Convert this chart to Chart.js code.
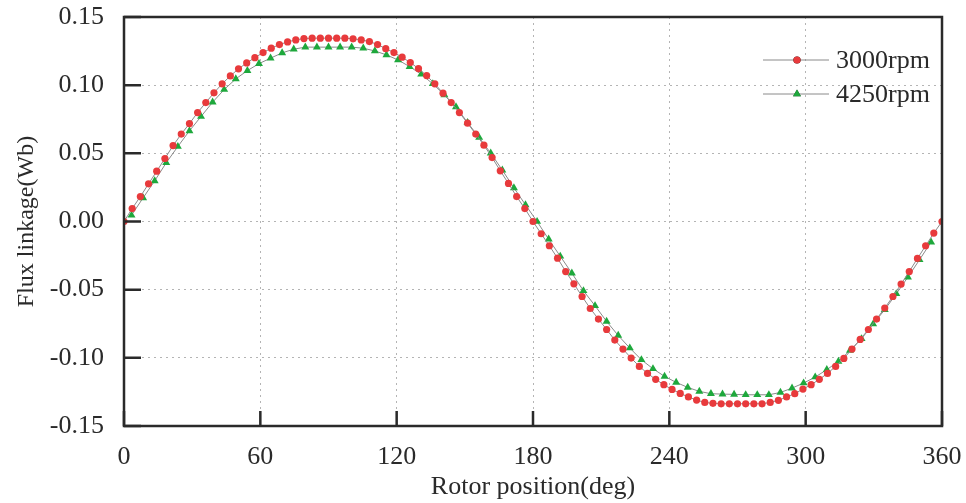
<!DOCTYPE html>
<html>
<head>
<meta charset="utf-8">
<script src="https://cdn.jsdelivr.net/npm/chart.js@4/dist/chart.umd.min.js"></script>
<style>
  html, body { margin: 0; padding: 0; background: #fff; }
  #wrap { width: 966px; height: 503px; }
</style>
</head>
<body>
<div id="wrap"><canvas id="lineChart" width="966" height="503"></canvas></div>
<script>
// 3000rpm: one point every 3.6 deg
var angles3000 = [0, 3.6, 7.2, 10.8, 14.4, 18, 21.6, 25.2, 28.8, 32.4, 36, 39.6, 43.2, 46.8, 50.4, 54, 57.6, 61.2, 64.8, 68.4,
  72, 75.6, 79.2, 82.8, 86.4, 90, 93.6, 97.2, 100.8, 104.4, 108, 111.6, 115.2, 118.8, 122.4, 126, 129.6, 133.2, 136.8, 140.4,
  144, 147.6, 151.2, 154.8, 158.4, 162, 165.6, 169.2, 172.8, 176.4, 180, 183.6, 187.2, 190.8, 194.4, 198, 201.6, 205.2, 208.8, 212.4,
  216, 219.6, 223.2, 226.8, 230.4, 234, 237.6, 241.2, 244.8, 248.4, 252, 255.6, 259.2, 262.8, 266.4, 270, 273.6, 277.2, 280.8, 284.4,
  288, 291.6, 295.2, 298.8, 302.4, 306, 309.6, 313.2, 316.8, 320.4, 324, 327.6, 331.2, 334.8, 338.4, 342, 345.6, 349.2, 352.8, 356.4, 360];
var flux3000 = [0, 0.0095, 0.0183, 0.0276, 0.0369, 0.0462, 0.0557, 0.0641, 0.0718, 0.0799,
  0.0872, 0.0944, 0.1010, 0.1068, 0.1120, 0.1163, 0.1202, 0.1239, 0.1271, 0.1298,
  0.1317, 0.1332, 0.1342, 0.1345, 0.1345, 0.1345, 0.1345, 0.1345, 0.1340, 0.1332,
  0.1320, 0.1298, 0.1268, 0.1239, 0.1205, 0.1166, 0.1122, 0.1070, 0.1010, 0.0941,
  0.0872, 0.0799, 0.0721, 0.0641, 0.0560, 0.0469, 0.0372, 0.0279, 0.0183, 0.0095,
  0, -0.0090, -0.0178, -0.0269, -0.0367, -0.0457, -0.0550, -0.0638, -0.0716, -0.0792,
  -0.0870, -0.0936, -0.1002, -0.1063, -0.1114, -0.1158, -0.1197, -0.1232, -0.1261, -0.1287,
  -0.1310, -0.1327, -0.1334, -0.1337, -0.1337, -0.1337, -0.1337, -0.1337, -0.1337, -0.1327,
  -0.1312, -0.1287, -0.1263, -0.1229, -0.1197, -0.1158, -0.1114, -0.1063, -0.1004, -0.0936,
  -0.0865, -0.0792, -0.0716, -0.0635, -0.0550, -0.0459, -0.0367, -0.0271, -0.0178, -0.0085, 0];

// 4250rpm: points, about 5.1 deg apart
var angles4250 = [3.3, 8.4, 13.5, 18.6, 23.7, 28.8, 33.9, 39.0, 44.1, 49.2, 54.3, 59.4, 64.5, 69.6, 74.7, 79.8, 84.9, 90.0,
  95.1, 100.2, 105.3, 110.4, 115.5, 120.6, 125.7, 130.8, 135.9, 141.0, 146.1, 151.2, 156.3, 161.4, 166.5, 171.6, 176.7,
  181.8, 186.9, 192.0, 197.1, 202.2, 207.3, 212.4, 217.5, 222.6, 227.7, 232.8, 237.9, 243.0, 248.1, 253.2, 258.3, 263.4,
  268.5, 273.6, 278.7, 283.8, 288.9, 294.0, 299.1, 304.2, 309.3, 314.4, 319.5, 324.6, 329.7, 334.8, 339.9, 345.0, 350.1, 355.2];
var flux4250 = [0.0046, 0.0173, 0.0298, 0.0431, 0.0550, 0.0665, 0.0770, 0.0875, 0.0968, 0.1046,
  0.1107, 0.1158, 0.1198, 0.1237, 0.1264, 0.1279, 0.1279, 0.1279, 0.1279, 0.1279,
  0.1271, 0.1251, 0.1222, 0.1185, 0.1136, 0.1080, 0.1010, 0.0929, 0.0841, 0.0726,
  0.0616, 0.0501, 0.0377, 0.0247, 0.0122, 0.0000, -0.0130, -0.0255, -0.0379, -0.0508,
  -0.0618, -0.0733, -0.0836, -0.0928, -0.1014, -0.1080, -0.1136, -0.1180, -0.1217, -0.1246,
  -0.1263, -0.1266, -0.1268, -0.1271, -0.1271, -0.1271, -0.1254, -0.1222, -0.1185, -0.1141,
  -0.1087, -0.1026, -0.0946, -0.0860, -0.0752, -0.0647, -0.0530, -0.0408, -0.0281, -0.0151];

var seriesNames = ['3000rpm', '4250rpm'];
var xTicks = [0, 60, 120, 180, 240, 300, 360];
var yTicks = [-0.15, -0.10, -0.05, 0.00, 0.05, 0.10, 0.15];

function pairs(xs, ys) {
  return xs.map(function (x, i) { return { x: x, y: ys[i] }; });
}

var serif = '"Liberation Serif", "Times New Roman", serif';
var ink = '#2a2a2a';

// frame, inward ticks and the in-plot legend
var framePlugin = {
  id: 'frame',
  afterDatasetsDraw: function (chart) {
    var ctx = chart.ctx, a = chart.chartArea;
    var xs = chart.scales.x, ys = chart.scales.y;
    ctx.save();
    ctx.strokeStyle = ink;
    ctx.lineWidth = 2.5;
    ctx.beginPath();
    xTicks.forEach(function (v) {
      var px = xs.getPixelForValue(v);
      ctx.moveTo(px, a.bottom);
      ctx.lineTo(px, a.bottom - 15);
    });
    yTicks.forEach(function (v) {
      var py = ys.getPixelForValue(v);
      ctx.moveTo(a.left, py);
      ctx.lineTo(a.left + 17, py);
    });
    ctx.stroke();
    ctx.strokeRect(a.left, a.top, a.right - a.left, a.bottom - a.top);

    // legend
    var lx = 763, ly = [60, 94];
    chart.data.datasets.forEach(function (ds, i) {
      var y = ly[i];
      ctx.strokeStyle = '#8a8a8a';
      ctx.lineWidth = 1;
      ctx.beginPath();
      ctx.moveTo(lx, y);
      ctx.lineTo(lx + 66, y);
      ctx.stroke();
      Chart.helpers.drawPoint(ctx, {
        pointStyle: ds.pointStyle,
        radius: ds.pointRadius,
        borderWidth: 0
      }, lx + 34, y);
      ctx.fillStyle = ds.pointBackgroundColor;
      ctx.fill();
      ctx.fillStyle = ink;
      ctx.font = '26px ' + serif;
      ctx.textBaseline = 'middle';
      ctx.textAlign = 'left';
      ctx.fillText(ds.label, lx + 73, y + 1);
    });
    ctx.restore();
  }
};

var ctx = document.getElementById('lineChart').getContext('2d');
var myChart = new Chart(ctx, {
  type: 'line',
  data: {
    datasets: [{
      label: seriesNames[0],
      data: pairs(angles3000, flux3000),
      borderColor: '#8a8a8a',
      borderWidth: 1,
      pointStyle: 'circle',
      pointRadius: 3.6,
      pointBackgroundColor: '#e83a3c',
      pointBorderWidth: 0,
      tension: 0
    }, {
      label: seriesNames[1],
      data: pairs(angles4250, flux4250),
      borderColor: '#8a8a8a',
      borderWidth: 1,
      pointStyle: 'triangle',
      pointRadius: 4.6,
      pointBackgroundColor: '#1ea83c',
      pointBorderWidth: 0,
      tension: 0
    }]
  },
  options: {
    responsive: false,
    animation: false,
    layout: { padding: { left: 0, right: 24, top: 17, bottom: 0 } },
    plugins: {
      legend: { display: false },
      tooltip: { enabled: false }
    },
    scales: {
      x: {
        type: 'linear',
        min: 0,
        max: 360,
        afterBuildTicks: function (s) { s.ticks = xTicks.map(function (v) { return { value: v }; }); },
        afterFit: function (s) { s.height = 77; s.paddingLeft = 0; s.paddingRight = 0; },
        grid: { color: '#b4b4b4', lineWidth: 1, drawTicks: false },
        border: { display: false, dash: [2, 4] },
        ticks: { color: ink, font: { family: serif, size: 26 }, padding: 16, maxRotation: 0 },
        title: { display: true, text: 'Rotor position(deg)', color: ink, font: { family: serif, size: 26 }, padding: { top: 0, bottom: 0 } }
      },
      y: {
        min: -0.15,
        max: 0.15,
        afterBuildTicks: function (s) { s.ticks = yTicks.map(function (v) { return { value: v }; }); },
        afterFit: function (s) { s.width = 124; s.paddingTop = 0; s.paddingBottom = 0; },
        grid: { color: '#b4b4b4', lineWidth: 1, drawTicks: false },
        border: { display: false, dash: [2, 4] },
        ticks: {
          color: ink, font: { family: serif, size: 26 }, padding: 20,
          callback: function (v) { return v.toFixed(2); }
        },
        title: { display: true, text: 'Flux linkage(Wb)', color: ink, font: { family: serif, size: 24 }, padding: { top: 12, bottom: 0 } }
      }
    }
  },
  plugins: [framePlugin]
});
</script>
</body>
</html>
